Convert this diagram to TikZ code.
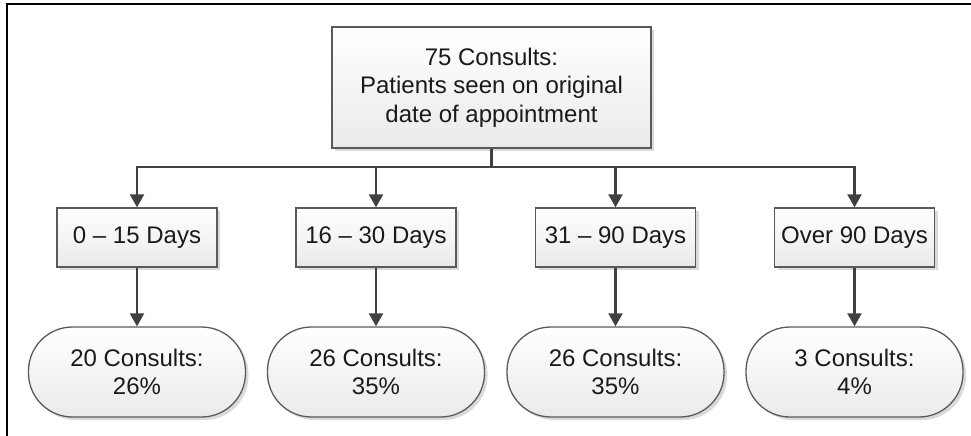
\documentclass[tikz,border=0pt]{standalone}
\usepackage{fontspec}
\setmainfont{Liberation Sans}
\usetikzlibrary{arrows.meta,shadows}
\definecolor{edgegray}{HTML}{5A5A5A}
\definecolor{arrowgray}{HTML}{404040}
\definecolor{fillbot}{HTML}{EAEAEA}
\definecolor{textcol}{HTML}{1A1A1A}
\tikzset{
  base/.style={draw=edgegray, line width=1.3pt, top color=white, bottom color=fillbot,
    text=textcol, font=\fontsize{24}{28.5}\selectfont, align=center, inner sep=0pt,
    drop shadow={shadow xshift=3pt, shadow yshift=-3pt, fill=black!18, opacity=0.8}},
  topbox/.style={base, minimum width=319pt, minimum height=121pt},
  daybox/.style={base, minimum width=160pt, minimum height=59pt},
  pill/.style={base, minimum width=217pt, minimum height=90pt, rounded corners=44pt},
  conn/.style={draw=arrowgray, line width=2.2pt},
  arr/.style={conn, -{Triangle[length=13pt,width=14pt]}},
}
\begin{document}
\begin{tikzpicture}[x=1pt,y=-1pt]
\useasboundingbox (0,0) rectangle (971,436);
\draw[line width=2pt] (7,437) -- (7,4) -- (972,4);

\node[topbox] (top) at (491.5,87.5) {75 Consults:\\Patients seen on original\\date of appointment};

\node[daybox] (b1) at (137,237.5) {0 – 15 Days};
\node[daybox] (b2) at (376,237.5) {16 – 30 Days};
\node[daybox] (b3) at (615.5,237.5) {31 – 90 Days};
\node[daybox] (b4) at (854.5,237.5) {Over 90 Days};

\node[pill] (p1) at (137,372) {20 Consults:\\26\%};
\node[pill] (p2) at (376,372) {26 Consults:\\35\%};
\node[pill] (p3) at (615.5,372) {26 Consults:\\35\%};
\node[pill] (p4) at (854.5,372) {3 Consults:\\4\%};

\coordinate (bus) at (491.5,167);
\draw[conn] (top.south) -- (bus);
\foreach \i in {1,2,3,4}{
  \draw[arr] (bus) -| (b\i.north);
  \draw[arr] (b\i.south) -- (p\i.north);
}
\end{tikzpicture}
\end{document}
